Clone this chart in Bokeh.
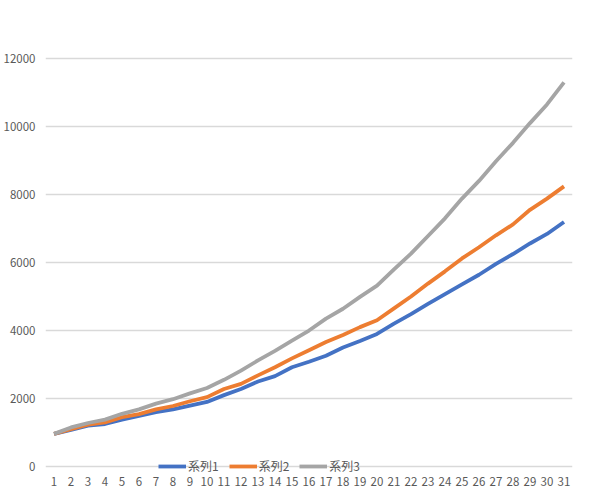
from bokeh.plotting import figure
from bokeh.models import Range1d, Legend, LegendItem
from bokeh.embed import file_html
from bokeh.resources import INLINE

days = [str(d) for d in range(1, 32)]
series1 = [960, 1080, 1200, 1250, 1380, 1490, 1600, 1680, 1790, 1900,
           2100, 2280, 2500, 2660, 2920, 3080, 3260, 3500, 3690, 3900,
           4200, 4480, 4780, 5070, 5360, 5640, 5960, 6250, 6560, 6840, 7190]
series2 = [960, 1100, 1230, 1300, 1450, 1540, 1680, 1780, 1920, 2040,
           2280, 2430, 2680, 2920, 3180, 3420, 3660, 3870, 4100, 4300,
           4650, 5000, 5380, 5740, 6120, 6450, 6800, 7120, 7550, 7880, 8240]
series3 = [960, 1150, 1280, 1380, 1550, 1680, 1850, 1980, 2150, 2310,
           2550, 2820, 3120, 3400, 3700, 4000, 4350, 4640, 4990, 5320,
           5800, 6260, 6780, 7300, 7880, 8400, 8980, 9520, 10100, 10650, 11300]
names = ["系列1", "系列2", "系列3"]
colors = ["#4472C4", "#ED7D31", "#A5A5A5"]
y_ticks = [0, 2000, 4000, 6000, 8000, 10000, 12000]

font = "Noto Sans CJK JP"
grey = "#595959"

p = figure(width=580, height=491, x_range=days, y_range=Range1d(-235, 12824),
           output_backend="svg", toolbar_location=None,
           min_border_left=44, min_border_right=8, min_border_top=30,
           min_border_bottom=17)
p.outline_line_color = None
p.xgrid.grid_line_color = None
p.ygrid.grid_line_color = "#D9D9D9"
p.ygrid.grid_line_width = 1.5
p.yaxis.ticker = y_ticks
p.yaxis.major_label_standoff = 10
p.xaxis.major_label_standoff = 2
for ax in (p.xaxis, p.yaxis):
    ax.axis_line_color = None
    ax.major_tick_line_color = None
    ax.minor_tick_line_color = None
    ax.major_tick_out = 0
    ax.major_tick_in = 0
    ax.major_label_text_font = font
    ax.major_label_text_font_size = "11.5px"
    ax.major_label_text_color = grey

items = []
for name, vals, c in zip(names, [series1, series2, series3], colors):
    r = p.line(days, vals, line_color=c, line_width=3.8, line_join="round")
    items.append(LegendItem(label=name, renderers=[r]))

legend = Legend(items=items, orientation="horizontal", location=(113, 0),
                glyph_width=28, glyph_height=14, label_height=14,
                label_standoff=2, spacing=10,
                padding=0, margin=0, background_fill_alpha=0,
                border_line_alpha=0, label_text_font=font,
                label_text_font_size="12px", label_text_color=grey)
p.add_layout(legend, "center")

open("out.html", "w").write(file_html(p, INLINE))
